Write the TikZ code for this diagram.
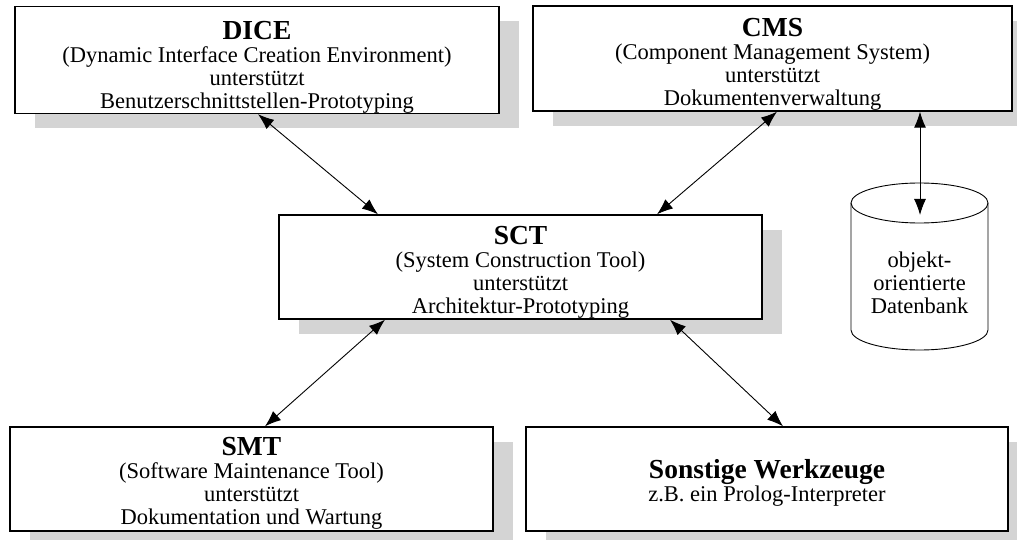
\documentclass[tikz,border=0pt]{standalone}
\usepackage{fontspec}
\setmainfont{Liberation Serif}
\usetikzlibrary{arrows.meta,shadows}
\definecolor{shadowgray}{RGB}{212,212,212}
% optional argument: extra height added above the title (moves text down by half of it)
\newcommand\boxtitle[2][0pt]{{\fontsize{27.5}{27.5}\selectfont\bfseries\rule{0pt}{\dimexpr19pt+#1\relax}#2}}
\tikzset{
  box/.style={draw=black, line width=1.4pt, fill=white, inner sep=0pt, align=center,
    font=\fontsize{22.5}{23}\selectfont,
    drop shadow={shadow xshift=20pt, shadow yshift=-15pt, fill=shadowgray, opacity=1}},
  conn/.style={line width=0.9pt, {Latex[length=16pt,width=12pt]}-{Latex[length=16pt,width=12pt]}},
  dbline/.style={line width=0.9pt}
}
\begin{document}
\begin{tikzpicture}[x=1pt,y=1pt]
\useasboundingbox[fill=white] (0,0) rectangle (1017,-540);
% boxes
\node[box, minimum width=484pt, minimum height=107pt] (dice) at (257,-60)
  {\boxtitle[14pt]{DICE}\\(Dynamic Interface Creation Environment)\\unterstützt\\Benutzerschnittstellen-Prototyping};
\node[box, minimum width=479pt, minimum height=105pt] (cms) at (772.5,-58.5)
  {\boxtitle[10pt]{CMS}\\(Component Management System)\\unterstützt\\Dokumentenverwaltung};
\node[box, minimum width=483pt, minimum height=104pt] (sct) at (520.5,-267)
  {\boxtitle[10pt]{SCT}\\(System Construction Tool)\\unterstützt\\Architektur-Prototyping};
\node[box, minimum width=483pt, minimum height=104pt] (smt) at (251.5,-479)
  {\boxtitle[8pt]{SMT}\\(Software Maintenance Tool)\\unterstützt\\Dokumentation und Wartung};
\node[box, minimum width=482pt, minimum height=104pt] (sonst) at (767,-479)
  {\boxtitle[8pt]{Sonstige Werkzeuge}\\z.B. ein Prolog-Interpreter};
% database cylinder
\draw[dbline, fill=white] (851,-203) -- (851,-330) arc (180:360:68.5pt and 20pt) -- (988,-203);
\draw[dbline] (919.5,-203) ellipse (68.5pt and 20pt);
\node[align=center, inner sep=0pt, font=\fontsize{22.5}{23}\selectfont] (db) at (919.5,-283)
  {objekt-\\orientierte\\Datenbank};
\coordinate (dbtop) at (920,-215);
% connectors
\draw[conn] ([xshift=1pt]dice.south) -- ([xshift=-142.5pt]sct.north);
\draw[conn] ([xshift=4.5pt]cms.south) -- ([xshift=136.5pt]sct.north);
\draw[conn] ([xshift=147.5pt]cms.south) -- (dbtop);
\draw[conn] ([xshift=-135.5pt]sct.south) -- ([xshift=13.5pt]smt.north);
\draw[conn] ([xshift=149.5pt]sct.south) -- ([xshift=16pt]sonst.north);
\end{tikzpicture}
\end{document}
